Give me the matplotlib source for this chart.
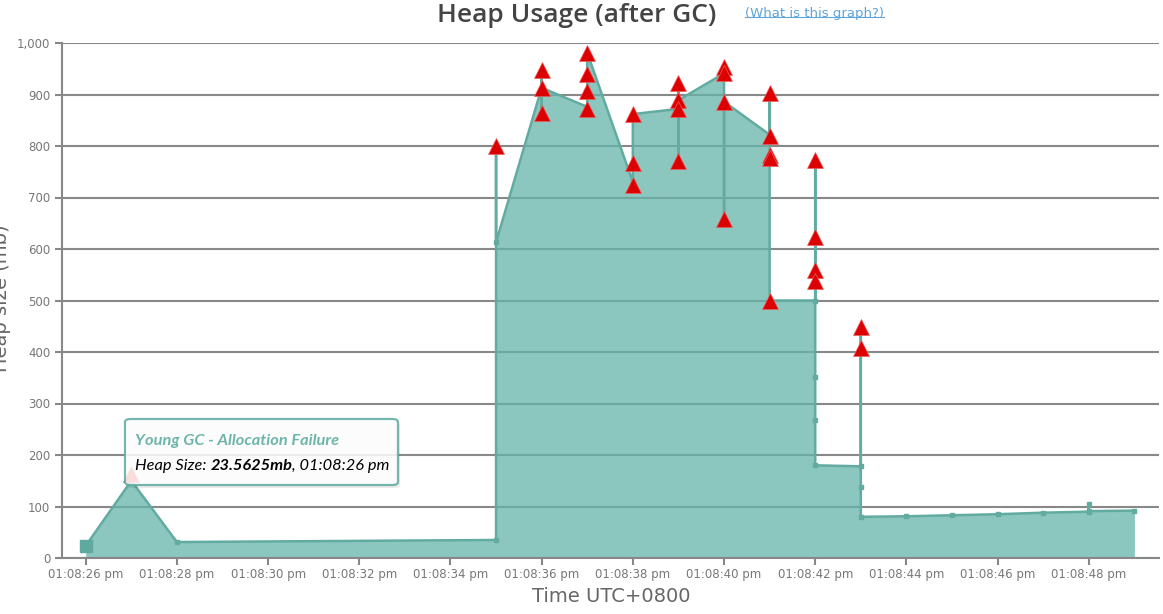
import matplotlib
matplotlib.use('Agg')
import matplotlib.pyplot as plt
from matplotlib.patches import FancyBboxPatch
from matplotlib.lines import Line2D
from matplotlib.text import Annotation
from matplotlib.ticker import FuncFormatter, MultipleLocator

# seconds after 01:08:00 pm, heap after GC (mb) in drawing order
gc_time = [26, 27, 28,
           35, 35, 35,
           36, 36, 36, 36,
           37, 37,
           38, 38,
           39, 39, 39, 39,
           40, 40, 40, 40,
           41, 41, 41, 41,
           42, 42, 42, 42, 42, 42, 42, 42,
           43, 43, 43, 43, 43,
           44, 45, 46, 47, 48, 48, 48, 49]
gc_heap = [23.5625, 150, 31,
           35, 800, 613,
           913, 948, 864, 913,
           876, 981,
           730, 862,
           872, 922, 770, 889,
           941, 953, 658, 886,
           822, 903, 779, 500,
           500, 773, 625, 560, 537, 351, 268, 180,
           178, 449, 408, 138, 80,
           81, 83, 85, 88, 90, 105, 91, 92]

# triangle events
fgc_time = [27, 35, 36, 36, 36, 37, 37, 37, 37, 38, 38, 38,
            39, 39, 39, 39, 40, 40, 40, 40, 41, 41, 41, 41, 41,
            42, 42, 42, 42, 43, 43]
fgc_heap = [163, 800, 948, 913, 864, 981, 939, 907, 872, 862, 767, 724,
            922, 889, 872, 770, 953, 941, 886, 658, 903, 819, 782, 776, 500,
            773, 623, 560, 537, 449, 408]

tick_sec = list(range(26, 50, 2))
hover_time, hover_heap = 26, 23.5625

line_c = '#62ABA0'
fill_c = '#64B4AA'
grid_c = '#888888'

W, H = 1163, 614
fig = plt.figure(figsize=(W / 100, H / 100), dpi=100)
ax = fig.add_axes([62 / W, 1 - 558 / H, (1159 - 62) / W, (558 - 43) / H])

ax.set_xlim(25.48, 49.54)
ax.set_ylim(0, 1000)
ax.yaxis.set_major_locator(MultipleLocator(100))
ax.yaxis.set_major_formatter(FuncFormatter(lambda v, p: f"{int(v):,}"))
ax.set_xticks(tick_sec)
ax.xaxis.set_major_formatter(FuncFormatter(lambda v, p: f"01:08:{int(v):02d} pm"))

ax.grid(axis='y', color=grid_c, linewidth=1.5, zorder=0)
ax.set_axisbelow(True)
for s in ['top', 'right']:
    ax.spines[s].set_visible(False)
for s in ['left', 'bottom']:
    ax.spines[s].set_color(grid_c)
    ax.spines[s].set_linewidth(1.5)
ax.tick_params(axis='both', colors=grid_c, width=1.5, length=5,
               labelcolor='#777777', labelsize=8.5)
ax.tick_params(axis='x', pad=2)

ax.fill_between(gc_time, gc_heap, 0, color=fill_c, alpha=0.75, linewidth=0, zorder=1)
ax.plot(gc_time, gc_heap, color=line_c, linewidth=1.8, marker='s', markersize=2.5,
        zorder=2)
ax.plot([hover_time], [hover_heap], marker='s', markersize=9, color='#5FA99E',
        linestyle='none', zorder=3, clip_on=False)
ax.plot(fgc_time, fgc_heap, linestyle='none', marker='^', markersize=11,
        color='#DD0000', markeredgecolor='#E86060', markeredgewidth=0.5, zorder=4)

# titles
fig.text(577 / W, 1 - 15 / H, 'Heap Usage (after GC)', ha='center', va='center',
         fontsize=19, fontfamily='Open Sans', fontweight='semibold', color='#444444')
link = fig.text(745 / W, 1 - 13 / H, '(What is this graph?)', ha='left', va='center',
                fontsize=9.5, color='#5DA5DA')
fig.text(611 / W, 1 - 596 / H, 'Time UTC+0800', ha='center', va='center',
         fontsize=14, color='#666666')
fig.text(2 / W, 1 - 298 / H, 'Heap size (mb)', ha='center', va='center',
         rotation=90, fontsize=14, color='#666666')

# tooltip
shadow = FancyBboxPatch((127 / W, 1 - 488 / H), 273 / W, 66 / H,
                        boxstyle='round,pad=0,rounding_size=0.005',
                        transform=fig.transFigure, facecolor='#000000', alpha=0.08,
                        edgecolor='none', zorder=9)
box = FancyBboxPatch((125 / W, 1 - 485 / H), 273 / W, 66 / H,
                     boxstyle='round,pad=0,rounding_size=0.005',
                     transform=fig.transFigure, facecolor='white', alpha=0.87,
                     edgecolor=line_c, linewidth=1.6, zorder=10)
fig.add_artist(shadow)
fig.add_artist(box)
tip = dict(fontsize=11.8, fontfamily='Lato', fontstyle='italic', zorder=11)
fig.text(135 / W, 1 - 445 / H, 'Young GC - Allocation Failure', ha='left',
         va='baseline', fontweight='bold', color='#6DB5AA', **tip)
t1 = fig.text(135 / W, 1 - 470 / H, 'Heap Size: ', ha='left', va='baseline',
              color='black', **tip)
t2 = Annotation('23.5625mb', xy=(1, 0), xycoords=t1, ha='left', va='bottom',
                fontweight='bold', color='black', **tip)
fig.add_artist(t2)
t3 = Annotation(', 01:08:26 pm', xy=(1, 0), xycoords=t2, ha='left', va='bottom',
                color='black', **tip)
fig.add_artist(t3)

# underline for the link
fig.canvas.draw()
bb = link.get_window_extent().transformed(fig.transFigure.inverted())
fig.add_artist(Line2D([bb.x0, bb.x1], [bb.y0 + 0.004, bb.y0 + 0.004],
                      transform=fig.transFigure, color='#5DA5DA', linewidth=0.8))

fig.savefig('out.png', dpi=100)
